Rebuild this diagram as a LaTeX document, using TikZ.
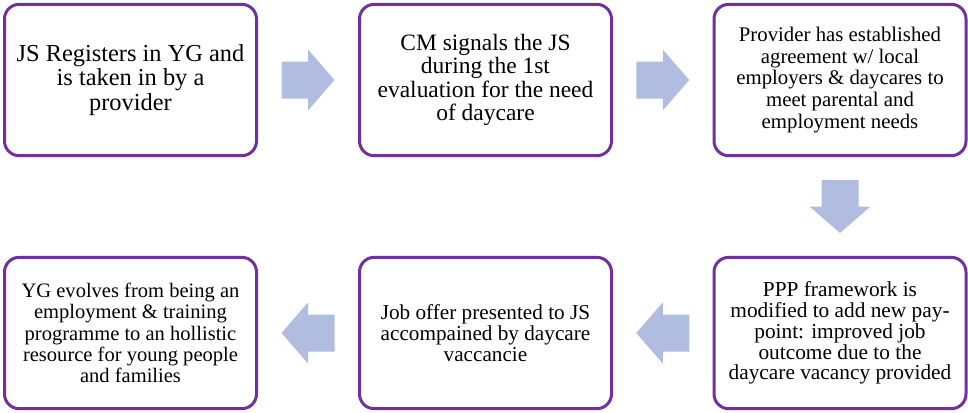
\documentclass[tikz,border=0pt]{standalone}
\usepackage{fontspec}
\setmainfont{Liberation Serif}
\usetikzlibrary{calc}
\definecolor{boxpurple}{HTML}{7030A0}
\definecolor{arrowblue}{HTML}{B0BDE0}
\tikzset{
  stepbox/.style={draw=boxpurple, line width=2.25pt, rounded corners=11pt, fill=white,
    minimum width=189pt, minimum height=113.5pt, align=center, inner sep=0pt},
  blockarrow/.pic={\fill[arrowblue] (-26.5,-18.5) -- (0,-18.5) -- (0,-30.5) -- (26.5,0) -- (0,30.5) -- (0,18.5) -- (-26.5,18.5) -- cycle;}
}
\begin{document}
\begin{tikzpicture}[x=0.75pt,y=-0.75pt]
\useasboundingbox (0,0) rectangle (968,412);
\node[stepbox, font=\fontsize{18.3}{18.3}\selectfont] (b1) at (130.5,80) {JS Registers in YG and\\is taken in by a\\provider};
\node[stepbox, font=\fontsize{17.6}{17.6}\selectfont] (b2) at (485.5,80) {CM signals the JS\\during the 1st\\evaluation for the need\\of daycare};
\node[stepbox, font=\fontsize{15.6}{16.2}\selectfont] (b3) at (840,80) {Provider has established\\agreement w/ local\\employers \& daycares to\\meet parental and\\employment needs};
\node[stepbox, font=\fontsize{16}{15.6}\selectfont] (b4) at (840,333) {PPP framework is\\modified to add new pay-\\point: improved job\\outcome due to the\\daycare vacancy provided};
\node[stepbox, font=\fontsize{15.9}{15.6}\selectfont] (b5) at (485.5,333) {Job offer presented to JS\\accompained by daycare\\vaccancie};
\node[stepbox, font=\fontsize{15.4}{16}\selectfont] (b6) at (130.5,333) {YG evolves from being an\\employment \& training\\programme to an hollistic\\resource for young people\\and families};
\pic at ($(b1.east)!0.5!(b2.west)$) {blockarrow};
\pic at ($(b2.east)!0.5!(b3.west)$) {blockarrow};
\pic[rotate=-90] at ($(b3.south)!0.5!(b4.north)$) {blockarrow};
\pic[rotate=180] at ($(b4.west)!0.5!(b5.east)$) {blockarrow};
\pic[rotate=180] at ($(b5.west)!0.5!(b6.east)$) {blockarrow};
\end{tikzpicture}
\end{document}
